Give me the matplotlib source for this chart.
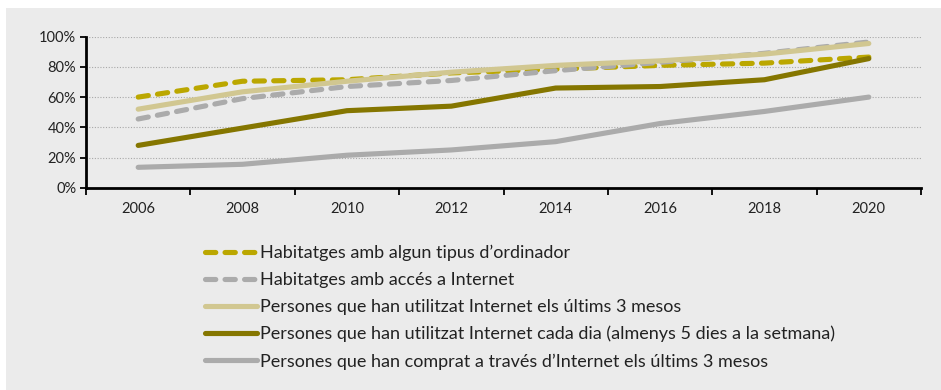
import matplotlib
matplotlib.use("Agg")
import matplotlib.pyplot as plt
from matplotlib.patches import Rectangle

plt.rcParams["font.family"] = ["Lato", "DejaVu Sans"]

years = ["2006", "2008", "2010", "2012", "2014", "2016", "2018", "2020"]
ordinador = [60, 70.5, 71.5, 76, 78.5, 81, 82.5, 86.5]
acces_internet = [45.5, 59, 67, 71, 77.5, 83, 89, 96.5]
internet_3_mesos = [52, 63.5, 70.5, 76.5, 81, 84, 88.5, 95.5]
internet_cada_dia = [28, 39.5, 51, 54, 66, 67, 71.5, 85.5]
compra_3_mesos = [13.5, 15.5, 21.5, 25, 30.5, 42.5, 50.5, 60]

labels = [
    "Habitatges amb algun tipus d\u2019ordinador",
    "Habitatges amb accés a Internet",
    "Persones que han utilitzat Internet els últims 3 mesos",
    "Persones que han utilitzat Internet cada dia (almenys 5 dies a la setmana)",
    "Persones que han comprat a través d\u2019Internet els últims 3 mesos",
]

BG = "#EBEBEB"
styles = [
    dict(color="#BBA700", dashed=True),
    dict(color="#ABABAB", dashed=True),
    dict(color="#D1C791", dashed=False),
    dict(color="#857600", dashed=False),
    dict(color="#ABABAB", dashed=False),
]
series = [ordinador, acces_internet, internet_3_mesos, internet_cada_dia, compra_3_mesos]

fig = plt.figure(figsize=(9.41, 3.9), dpi=100)
fig.patch.set_facecolor("white")
fig.patches.append(Rectangle((6 / 941, 0), 1, 1 - 8 / 390, transform=fig.transFigure,
                             facecolor=BG, edgecolor="none", zorder=-10))

ax = fig.add_axes([86 / 941, 1 - 187.7 / 390, (921 - 86) / 941, (187.7 - 36.7) / 390])
ax.set_facecolor(BG)

x = list(range(len(years)))
for i, (vals, st, lab) in enumerate(zip(series, styles, labels)):
    v = [val / 100 for val in vals]
    line, = ax.plot(x, v, color=st["color"], lw=3.7, label=lab,
                    solid_capstyle="round", dash_capstyle="round", zorder=3 + i)
    if st["dashed"]:
        line.set_dashes((2.0, 1.8))

ax.set_xlim(-0.5, len(years) - 0.5)
ax.set_ylim(0, 1)
ax.set_yticks([0, 0.2, 0.4, 0.6, 0.8, 1.0])
ax.set_yticklabels(["0%", "20%", "40%", "60%", "80%", "100%"])
ax.yaxis.grid(True, color="#A8A8A8", linestyle=(0, (1, 1.5)), linewidth=0.8)
ax.set_axisbelow(True)

# category boundaries get ticks, centres get the year labels
ax.set_xticks([i - 0.5 for i in range(len(years) + 1)])
ax.set_xticklabels([])
ax.set_xticks(x, minor=True)
ax.set_xticklabels(years, minor=True)
ax.tick_params(axis="x", which="major", length=5, width=1.3, direction="out")
ax.tick_params(axis="x", which="minor", length=0, pad=10, labelsize=10.5, labelcolor="#222222")
ax.tick_params(axis="y", length=4, width=1.3, pad=3, labelsize=10.5, labelcolor="#222222")

for side in ["top", "right"]:
    ax.spines[side].set_visible(False)
for side in ["left", "bottom"]:
    ax.spines[side].set_linewidth(2)
    ax.spines[side].set_color("black")

leg = fig.legend(loc="upper left", bbox_to_anchor=(196 / 941, 1 - 236 / 390),
                 frameon=False, fontsize=13.0, handlelength=2.9, handletextpad=0.12,
                 labelspacing=0.6, borderpad=0)
for t in leg.get_texts():
    t.set_color("#222222")

fig.savefig("out.png", dpi=100, facecolor=fig.get_facecolor())
